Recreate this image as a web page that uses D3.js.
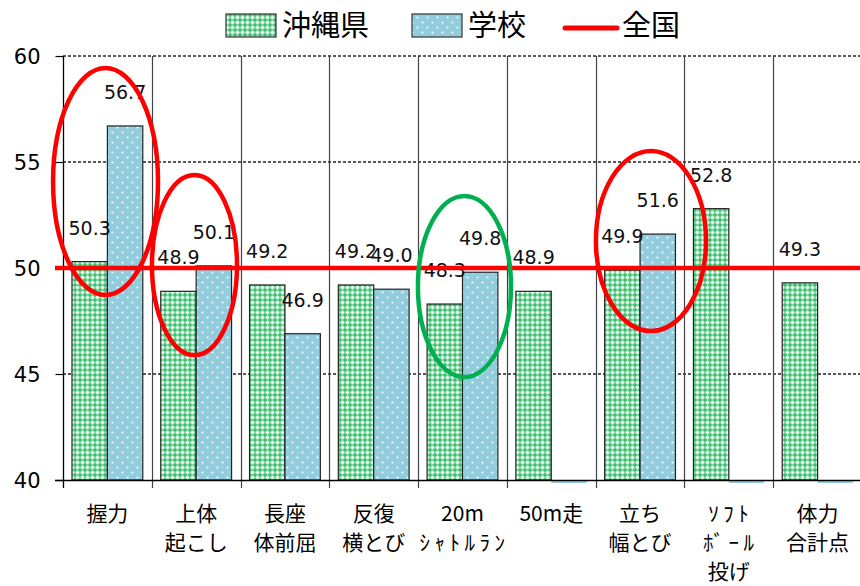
<!DOCTYPE html>
<html><head><meta charset="utf-8">
<script src="https://cdn.jsdelivr.net/npm/d3@7"></script>
<style>
html,body{margin:0;padding:0;background:#fff;}
svg{display:block;}
</style></head>
<body>
<svg id="chart" width="860" height="586"></svg>
<script>
// ---- data ----
const categories = [
  ["握力"], ["上体","起こし"], ["長座","体前屈"], ["反復","横とび"],
  ["20m","ｼｬﾄﾙﾗﾝ"], ["50m走"], ["立ち","幅とび"], ["ｿﾌﾄ","ﾎﾞｰﾙ","投げ"], ["体力","合計点"]
];
const seriesNames = ["沖縄県", "学校"];
const okinawa = [50.3, 48.9, 49.2, 49.2, 48.3, 48.9, 49.9, 52.8, 49.3];
const school  = [56.7, 50.1, 46.9, 49.0, 49.8, 0, 51.6, 0, 0];
const nationalName = "全国";
const nationalValue = 50;
const yTicks = [40, 45, 50, 55, 60];
// annotation ellipses (category units / value units)
const annoColor = ["red", "red", "green", "red"];
const annoCat   = [0.479, 1.481, 4.522, 6.623];
const annoVal   = [54.08, 50.14, 49.13, 51.27];
const annoRCat  = [0.591, 0.479, 0.524, 0.62];
const annoRVal  = [5.35, 4.245, 4.27, 4.245];

// ---- layout ----
const svg = d3.select("#chart");
const L = 63, R = 862, T = 56, B = 480;
const x = d3.scaleBand().domain(d3.range(categories.length)).range([L, R]).paddingInner(0).paddingOuter(0);
const xs = d3.scaleBand().domain(seriesNames).range([0, x.bandwidth()]).paddingInner(0).paddingOuter(0.254);
const y = d3.scaleLinear().domain([40, 60]).range([B, T]);
const xc = d3.scaleLinear().domain([0, categories.length]).range([L, R]);

// patterns
const defs = svg.append("defs");
const pg = defs.append("pattern").attr("id","pGreen").attr("patternUnits","userSpaceOnUse")
  .attr("width",5).attr("height",5);
pg.append("rect").attr("width",5).attr("height",5).attr("fill","#3cbf6e");
pg.append("rect").attr("x",1.5).attr("y",0.5).attr("width",2).attr("height",4).attr("fill","#e8f8ee");
pg.append("rect").attr("x",0.5).attr("y",1.5).attr("width",4).attr("height",2).attr("fill","#e8f8ee");
const pb = defs.append("pattern").attr("id","pBlue").attr("patternUnits","userSpaceOnUse")
  .attr("width",10).attr("height",10);
pb.append("rect").attr("width",10).attr("height",10).attr("fill","#93cddd");
pb.append("circle").attr("cx",2.5).attr("cy",2.5).attr("r",1.1).attr("fill","#f4fbfd");
pb.append("circle").attr("cx",7.5).attr("cy",7.5).attr("r",1.1).attr("fill","#f4fbfd");
const fills = ["url(#pGreen)", "url(#pBlue)"];

// horizontal gridlines
svg.append("g").selectAll("line").data(yTicks.filter(v => v > 40)).join("line")
  .attr("x1", L).attr("x2", R).attr("y1", d => y(d)).attr("y2", d => y(d))
  .attr("stroke", "#222").attr("stroke-width", 1.3).attr("stroke-dasharray", "3,2");

// vertical gridlines at category boundaries
const bounds = d3.range(1, categories.length + 1).map(i => xc(i));
svg.append("g").selectAll("line").data(bounds).join("line")
  .attr("x1", d => Math.round(d) + 0.5).attr("x2", d => Math.round(d) + 0.5)
  .attr("y1", T).attr("y2", B + 8)
  .attr("stroke", "#444").attr("stroke-width", 1.2);

// bars
const data = [];
categories.forEach((c, i) => {
  [okinawa[i], school[i]].forEach((v, k) => data.push({i, k, v}));
});
const gBars = svg.append("g");
gBars.selectAll("rect.bar").data(data.filter(d => d.v > 40)).join("rect")
  .attr("class","bar")
  .attr("x", d => x(d.i) + xs(seriesNames[d.k]))
  .attr("width", xs.bandwidth())
  .attr("y", d => y(d.v))
  .attr("height", d => y(40) - y(d.v))
  .attr("fill", d => fills[d.k])
  .attr("stroke", "#222").attr("stroke-width", 1.2);
gBars.selectAll("rect.stub").data(data.filter(d => d.v <= 40)).join("rect")
  .attr("class","stub")
  .attr("x", d => x(d.i) + xs(seriesNames[d.k]))
  .attr("width", xs.bandwidth())
  .attr("y", y(40) + 1)
  .attr("height", 2)
  .attr("fill", "#93cddd");

// axes
svg.append("line").attr("x1", L - 8).attr("x2", R).attr("y1", B + 0.5).attr("y2", B + 0.5)
  .attr("stroke", "#000").attr("stroke-width", 1.3);
svg.append("line").attr("x1", L + 0.5).attr("x2", L + 0.5).attr("y1", T).attr("y2", B + 8)
  .attr("stroke", "#000").attr("stroke-width", 1.3);
const yAxis = d3.axisLeft(y).tickValues(yTicks).tickSize(8).tickSizeOuter(0).tickPadding(15);
const gy = svg.append("g").attr("transform", `translate(${L + 0.5},0)`).call(yAxis);
gy.select(".domain").remove();
gy.selectAll(".tick line").attr("stroke", "#000").attr("stroke-width", 1.2);
gy.selectAll(".tick text").attr("font-family", "DejaVu Sans, Verdana, sans-serif")
  .attr("font-size", 21).attr("fill", "#000").attr("dy", "0.36em");

// x labels
const isHalfWidth = s => /[\uFF61-\uFF9F]/.test(s);
const gx = svg.append("g");
categories.forEach((lines, i) => {
  const cx = x(i) + x.bandwidth() / 2;
  const t = gx.append("text").attr("x", cx).attr("y", 521)
    .attr("text-anchor", "middle")
    .attr("font-family", "Noto Sans CJK JP, sans-serif")
    .attr("font-size", 21).attr("fill", "#000");
  lines.forEach((ln, j) => {
    const hw = isHalfWidth(ln);
    t.append("tspan").attr("x", hw ? cx + 2 : cx)
      .attr("dy", j === 0 ? 0 : 29)
      .attr("letter-spacing", hw ? 4.5 : null)
      .text(ln);
  });
});

// value labels
svg.append("g").selectAll("text").data(data.filter(d => d.v > 40)).join("text")
  .attr("x", d => x(d.i) + xs(seriesNames[d.k]) + xs.bandwidth() / 2)
  .attr("y", d => y(d.v) - 27)
  .attr("text-anchor", "middle")
  .attr("font-family", "DejaVu Sans, Verdana, sans-serif")
  .attr("font-size", 19).attr("fill", "#111")
  .text(d => d.v.toFixed(1));

// national line
svg.append("line").attr("x1", L - 8).attr("x2", 860).attr("y1", y(nationalValue)).attr("y2", y(nationalValue))
  .attr("stroke", "#ff0000").attr("stroke-width", 4.5);

// annotation ellipses
const colorMap = {red: "#ff0000", green: "#00b050"};
svg.append("g").selectAll("ellipse").data(annoCat.map((c, i) => i)).join("ellipse")
  .attr("cx", i => xc(annoCat[i]))
  .attr("cy", i => y(annoVal[i]))
  .attr("rx", i => xc(annoRCat[i]) - xc(0))
  .attr("ry", i => y(0) - y(annoRVal[i]))
  .attr("fill", "none")
  .attr("stroke", i => colorMap[annoColor[i]])
  .attr("stroke-width", 4.5);

// legend
const lg = svg.append("g").attr("font-family", "Noto Sans CJK JP, sans-serif")
  .attr("font-size", 29).attr("fill", "#000");
const legendX = [226, 412];
seriesNames.forEach((s, k) => {
  lg.append("rect").attr("x", legendX[k]).attr("y", 14).attr("width", 50).attr("height", 23)
    .attr("fill", fills[k]).attr("stroke", "#333").attr("stroke-width", 1.2);
  lg.append("text").attr("x", legendX[k] + 56).attr("y", 36).text(s);
});
lg.append("line").attr("x1", 565).attr("x2", 617).attr("y1", 28).attr("y2", 28)
  .attr("stroke", "#ff0000").attr("stroke-width", 5).attr("stroke-linecap", "round");
lg.append("text").attr("x", 622).attr("y", 36).text(nationalName);
</script>
</body></html>
